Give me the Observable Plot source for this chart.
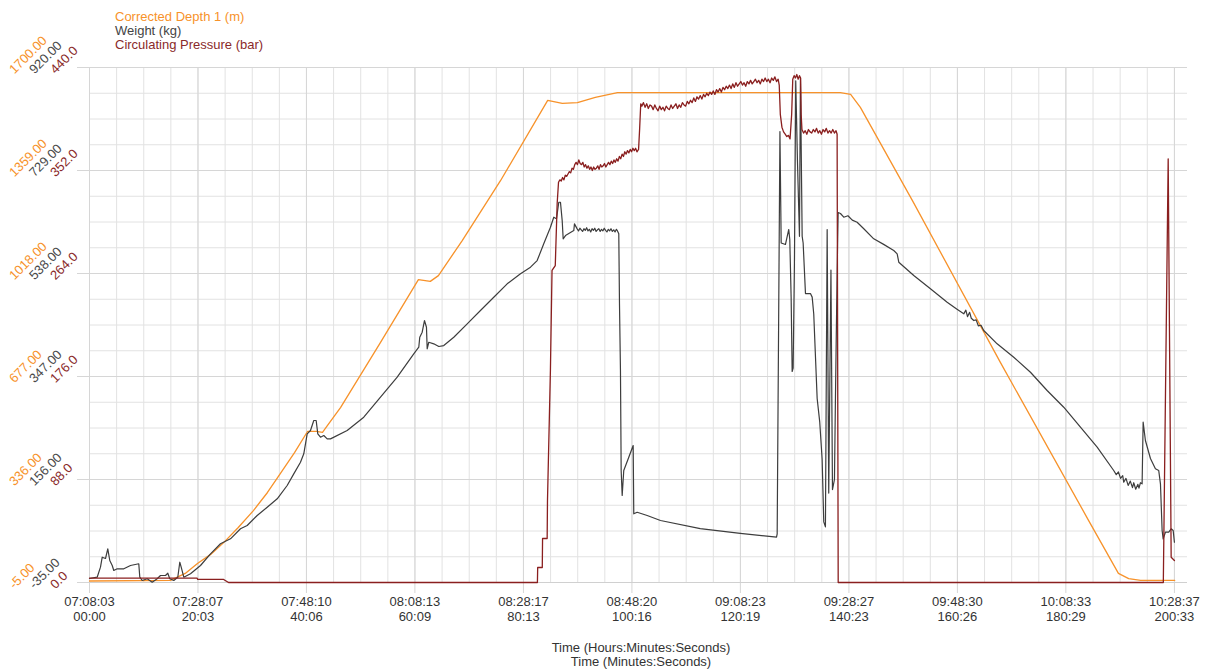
<!DOCTYPE html>
<html>
<head>
<meta charset="utf-8">
<script src="https://cdn.jsdelivr.net/npm/d3@7"></script>
<script src="https://cdn.jsdelivr.net/npm/@observablehq/plot@0.6"></script>
<style>
  body { margin: 0; background: #fff; font-family: "Liberation Sans", Arial, sans-serif; }
  #wrap { position: relative; width: 1210px; height: 671px; overflow: hidden; background: #fff; }
  #legend { position: absolute; left: 115px; top: 10px; font-size: 13px; line-height: 14px; white-space: nowrap; }
  #chart { position: absolute; left: 0; top: 56px; }
  #caption { position: absolute; left: 441px; width: 400px; top: 641px; text-align: center; font-size: 13px; line-height: 14px; color: #333; }
</style>
</head>
<body>
<div id="wrap">
  <div id="legend"></div>
  <div id="chart"></div>
  <div id="caption"></div>
</div>
<script>
// ---------- Data ----------
const seriesNames = ["Corrected Depth 1 (m)", "Weight (kg)", "Circulating Pressure (bar)"];
const axisTitle = ["Time (Hours:Minutes:Seconds)", "Time (Minutes:Seconds)"];

const xTickHMS = ["07:08:03","07:28:07","07:48:10","08:08:13","08:28:17","08:48:20","09:08:23","09:28:27","09:48:30","10:08:33","10:28:37"];
const xTickMS  = ["00:00","20:03","40:06","60:09","80:13","100:16","120:19","140:23","160:26","180:29","200:33"];

const depthTicks    = [-5, 336, 677, 1018, 1359, 1700];
const weightTicks   = [-35, 156, 347, 538, 729, 920];
const pressureTicks = [0, 88, 176, 264, 352, 440];

// [elapsed minutes, depth m]
const depthData = [
  [0,0],[14.97,2],[17.7,25],[19.96,58],[22.4,88],[24.8,127],[27.5,177],[30.3,233],[32.9,293],[35.3,356],
  [37.9,425],[40.3,495],[41.96,495],[43.07,492],[44.0,515],[46.4,574],[53.8,790],[60.8,998],[63.0,992],
  [64.5,1011],[68.9,1127],[76.0,1326],[84.7,1591],[87.4,1581],[90.2,1584],[93.5,1601],[97.6,1617],
  [138.8,1617],[140.7,1611],[142.5,1568],[152.1,1260],[168.4,723],[184.7,200],[190.2,25],[192.1,8],
  [194.3,2],[200.6,2]
];

// [elapsed minutes, weight kg]
const weightData = [
  [0,-27.6],[1.42,-25.2],[2.03,-6.6],[2.35,11.9],[2.96,9.5],[3.38,27.5],[3.75,5.8],[4.2,-3.5],[4.49,-12.7],
  [5.12,-9.6],[6.34,-9.6],[7.58,-3.5],[9.11,-0.3],[9.3,-25.2],[9.74,-31.3],[10.67,-28.1],[11.59,-34.4],
  [12.51,-28.1],[13.12,-22],[14.05,-22],[14.47,-17.8],[14.84,-28.1],[15.58,-31.3],[16.32,-25.2],[16.69,2.6],
  [16.95,-6.6],[17.43,-25.2],[18.67,-18.9],[20.52,-3.5],[22.37,18.2],[24.21,36.8],[26.06,46],[27.91,64.6],
  [29.15,70.7],[31.0,89.2],[32.85,104.6],[34.7,120.2],[36.54,144.9],[37.76,166.5],[39.0,188.1],[39.61,203.6],
  [40.24,240.7],[40.85,246.8],[41.46,265.4],[41.9,265.4],[42.2,240.7],[42.7,234.4],[43.31,237.6],[43.94,231.4],
  [44.55,231.4],[47.63,246.8],[50.7,271.5],[53.79,308.6],[56.88,345.7],[59.94,389],[60.87,401.3],[61.05,419.8],
  [61.5,429.1],[61.92,450.8],[62.29,438.4],[62.42,398.3],[62.72,410.5],[63.64,407.6],[64.57,402.6],[65.49,404.4],
  [67.34,419.8],[69.82,444.6],[72.27,469.3],[74.73,494],[77.21,518.9],[79.67,537.4],[81.52,549.7],[82.75,562],
  [83.97,593],[85.21,623.8],[85.82,642.4],[86.32,639.4],[86.75,670.1],[87.06,670.1],[87.38,636.1],[87.56,602.3],
  [87.99,608.4],[89.52,617.6],[89.65,630],[90.15,620.8],[90.4,617],[90.65,622],[90.9,619],[91.15,616],[91.4,621],
  [91.65,618],[91.9,623],[92.15,617],[92.4,620],[92.65,615],[92.9,621],[93.15,618],[93.4,622],[93.65,616],
  [93.9,619],[94.15,621],[94.4,616],[94.65,620],[94.9,617],[95.15,622],[95.4,618],[95.65,615],[95.9,620],
  [96.15,617],[96.4,621],[96.65,616],[96.9,619],[97.15,615],[97.4,620],[97.6,617],
  [97.84,611.5],[97.97,481.7],[98.15,358.1],[98.28,172.7],[98.47,126.3],[98.76,172.7],[99.69,197.3],[100.5,219],
  [100.61,92.4],[101.24,95.3],[103.09,89.2],[105.55,80],[112.9,65],[120.3,56],[127.0,49],[127.12,55],
  [127.63,801.3],[127.86,594.6],[128.65,591.8],[129.26,619.6],[129.45,601],[129.7,494.2],[129.89,356.3],
  [130.07,362.6],[130.31,556.9],[130.55,895.4],[130.87,745.7],[131.24,607],[131.42,901.5],[131.74,607],
  [131.92,594.6],[132.35,500.8],[133.27,500.8],[133.59,494.2],[133.88,462.9],[134.51,306.2],[134.99,262.3],
  [135.43,193.5],[135.73,77.4],[136.04,68.1],[136.36,619.6],[136.65,130.8],[137.06,544.3],[137.34,137.4],
  [137.71,156],[137.89,306.2],[138.21,544.3],[138.39,651.1],[138.82,649.3],[139.43,642.4],[140.2,645],
  [141.0,637],[141.9,633.1],[143.13,620.9],[144.97,602.3],[146.8,592],[148.67,580.6],[149.3,574.5],[149.6,558.9],
  [152.37,534.3],[155.45,509.6],[158.54,484.8],[160.3,472],[161.61,463.2],[162.0,470],[162.3,458],[162.7,466],
  [163.0,455],[163.46,450.8],[163.9,452],[164.3,441],[164.8,442],[165.3,432.3],[167.78,407.6],[170.85,382.8],
  [173.94,354.9],[177.02,321],[180.09,290],[183.18,253],[186.27,215.9],[189.33,172.7],[189.8,165],[190.2,170],
  [190.6,158],[191.0,163],[191.18,151],[191.6,158],[192.0,145],[192.4,153],[192.8,141],[193.03,150],[193.4,138],
  [193.8,147],[194.0,140],[194.27,150],[194.58,148],[194.77,262.3],[195.19,228.3],[196.12,194.9],[197.04,175.8],
  [197.65,172.7],[197.97,148],[198.28,61.4],[198.47,46],[198.89,58.3],[199.5,58.3],[199.95,64.6],[200.32,61.4],
  [200.55,39.7]
];

// [elapsed minutes, pressure bar]
const pressureData = [
  [0,3.7],[19.9,3.7],[20.0,2.6],[24.8,2.6],[25.7,0],[82.8,0],[82.85,12.8],[83.7,12.8],[83.75,37.6],[84.6,37.6],
  [84.66,70],[85.2,181],[85.5,266.6],[86.1,270.8],[86.45,323.8],[86.7,342],[86.95,344],[87.2,343],[87.45,346],
  [87.7,344],[87.95,348],[88.2,347],[88.45,349],[88.7,351],[88.95,350],[89.2,354],[89.45,353],[89.7,357],
  [89.95,359],[90.2,357],[90.45,361],[90.7,358],[90.95,357],[91.2,359],[91.45,355],[91.7,357],[91.95,354],
  [92.2,356],[92.45,353],[92.7,355],[92.95,352],[93.2,355],[93.45,353],[93.7,354],[93.95,356],[94.2,353],
  [94.45,357],[94.7,355],[94.95,356],[95.2,358],[95.45,355],[95.7,357],[95.95,359],[96.2,357],[96.45,360],
  [96.7,358],[96.95,361],[97.2,359],[97.45,362],[97.7,360],[97.95,364],[98.2,362],[98.45,366],[98.7,364],
  [98.95,368],[99.2,366],[99.45,369],[99.7,367],[99.95,370],[100.2,368],[100.45,371],[100.7,369],[100.95,371],
  [101.2,368],[101.5,370],[101.7,388],[101.9,409],[102.1,407],[102.4,410],[102.7,406],[103.0,409],[103.3,405],
  [103.6,408],[103.9,407],[104.2,404],[104.5,408],[104.8,405],[105.1,403],[105.4,407],[105.7,404],[106.0,406],
  [106.3,403],[106.6,407],[106.9,405],[107.2,404],[107.5,408],[107.8,405],[108.1,407],[108.4,409],[108.7,405],
  [109.0,408],[109.3,406],[109.6,410],[109.9,408],[110.2,407],[110.5,411],[110.8,409],[111.1,412],[111.4,410],
  [111.7,414],[112.0,411],[112.3,415],[112.6,413],[112.9,416],[113.2,413],[113.5,417],[113.8,415],[114.1,418],
  [114.4,416],[114.7,419],[115.0,417],[115.3,420],[115.6,417],[115.9,421],[116.2,419],[116.5,422],[116.8,419],
  [117.1,423],[117.4,421],[117.7,424],[118.0,422],[118.3,425],[118.6,422],[118.9,426],[119.2,423],[119.5,427],
  [119.8,424],[120.1,426],[120.4,428],[120.7,425],[121.0,427],[121.3,424],[121.6,428],[121.9,426],[122.2,429],
  [122.5,426],[122.8,428],[123.1,430],[123.4,427],[123.7,429],[124.0,426],[124.3,430],[124.6,428],[124.9,431],
  [125.2,428],[125.5,430],[125.8,427],[126.1,431],[126.4,429],[126.7,432],[127.0,428],[127.3,430],
  [127.5,425],[127.7,400],[128.0,389],[128.3,385],[128.6,383],[128.9,381],[129.2,382],[129.5,379],[129.8,400],
  [130.0,430],[130.25,433],[130.5,431],[130.75,434],[131.0,430],[131.25,433],[131.45,431],[131.55,400],
  [131.7,387],[132.0,384],[132.3,386],[132.6,383],[132.9,387],[133.2,385],[133.5,384],[133.8,387],[134.1,385],
  [134.4,388],[134.7,384],[135.0,386],[135.3,383],[135.6,387],[135.9,385],[136.2,388],[136.5,384],[136.8,386],
  [137.1,384],[137.4,387],[137.7,384],[138.0,386],[138.2,383],[138.4,0],[198.5,0],[199.4,362],
  [199.95,21.6],[200.55,18.8]
];

// ---------- Styles ----------
const ORANGE = "#f7922a";
const GRAY = "#3d3d3d";
const RED = "#8a1f1f";
const GRID = "#e2e2e2";
const FONT = '"Liberation Sans", Arial, sans-serif';

// ---------- Legend / caption ----------
const legendColors = [ORANGE, "#444", "#8a2a2a"];
document.getElementById("legend").innerHTML =
  seriesNames.map((n, i) => `<div style="color:${legendColors[i]}">${n}</div>`).join("");
document.getElementById("caption").innerHTML = axisTitle.map(t => `<div>${t}</div>`).join("");

// ---------- Scales helpers ----------
const msToMin = s => { const [m, sec] = s.split(":").map(Number); return m + sec / 60; };
const xTickPos = xTickMS.map(msToMin);
const xEnd = xTickPos[xTickPos.length - 1];
const xDomainMax = 202.97;

const yMin = depthTicks[0], yMax = depthTicks[depthTicks.length - 1];
const wToY = d3.scaleLinear([weightTicks[0], weightTicks[weightTicks.length - 1]], [yMin, yMax]);
const pToY = d3.scaleLinear([pressureTicks[0], pressureTicks[pressureTicks.length - 1]], [yMin, yMax]);

const vGrid = d3.range(0, 41).map(i => i * xEnd / 40);
const hGrid = d3.range(0, 21).map(i => yMin + i * (yMax - yMin) / 20);

const tickIdx = d3.range(depthTicks.length);

const chart = Plot.plot({
  width: 1210,
  height: 580,
  marginLeft: 89,
  marginRight: 23,
  marginTop: 11,
  marginBottom: 54,
  x: { domain: [0, xDomainMax], axis: null },
  y: { domain: [yMin, yMax], axis: null },
  style: { fontFamily: FONT, fontSize: "13px", background: "#fff", overflow: "visible" },
  marks: [
    Plot.ruleY(hGrid, { stroke: GRID, strokeWidth: 1 }),
    Plot.ruleX(vGrid, { stroke: GRID, strokeWidth: 1 }),
    Plot.ruleX(xTickPos, { stroke: "#d6d6d6", insetBottom: -11 }),
    Plot.ruleY(depthTicks, { stroke: "#d6d6d6", insetLeft: -12 }),
    Plot.ruleY([yMin], { stroke: "#d0d0d0" }),
    // series
    Plot.line(depthData, { x: d => d[0], y: d => d[1], stroke: ORANGE, strokeWidth: 1.3 }),
    Plot.line(weightData, { x: d => d[0], y: d => wToY(d[1]), stroke: GRAY, strokeWidth: 1.2 }),
    Plot.line(pressureData, { x: d => d[0], y: d => pToY(d[1]), stroke: RED, strokeWidth: 1.3 }),
    // y labels (three scales)
    Plot.text(tickIdx, { y: i => depthTicks[i], text: i => depthTicks[i].toFixed(2), frameAnchor: "left",
      dx: -75, dy: 7, rotate: -45, textAnchor: "start", lineAnchor: "bottom", fill: ORANGE }),
    Plot.text(tickIdx, { y: i => depthTicks[i], text: i => weightTicks[i].toFixed(2), frameAnchor: "left",
      dx: -55, dy: 7, rotate: -45, textAnchor: "start", lineAnchor: "bottom", fill: "#4a4a4a" }),
    Plot.text(tickIdx, { y: i => depthTicks[i], text: i => pressureTicks[i].toFixed(1), frameAnchor: "left",
      dx: -34, dy: 7, rotate: -45, textAnchor: "start", lineAnchor: "bottom", fill: "#8a2a2a" }),
    // x labels
    Plot.text(d3.range(xTickPos.length), { x: i => xTickPos[i], text: i => xTickHMS[i], frameAnchor: "bottom",
      dy: 23, fill: "#333" }),
    Plot.text(d3.range(xTickPos.length), { x: i => xTickPos[i], text: i => xTickMS[i], frameAnchor: "bottom",
      dy: 38, fill: "#333" })
  ]
});
document.getElementById("chart").appendChild(chart);
</script>
</body>
</html>
